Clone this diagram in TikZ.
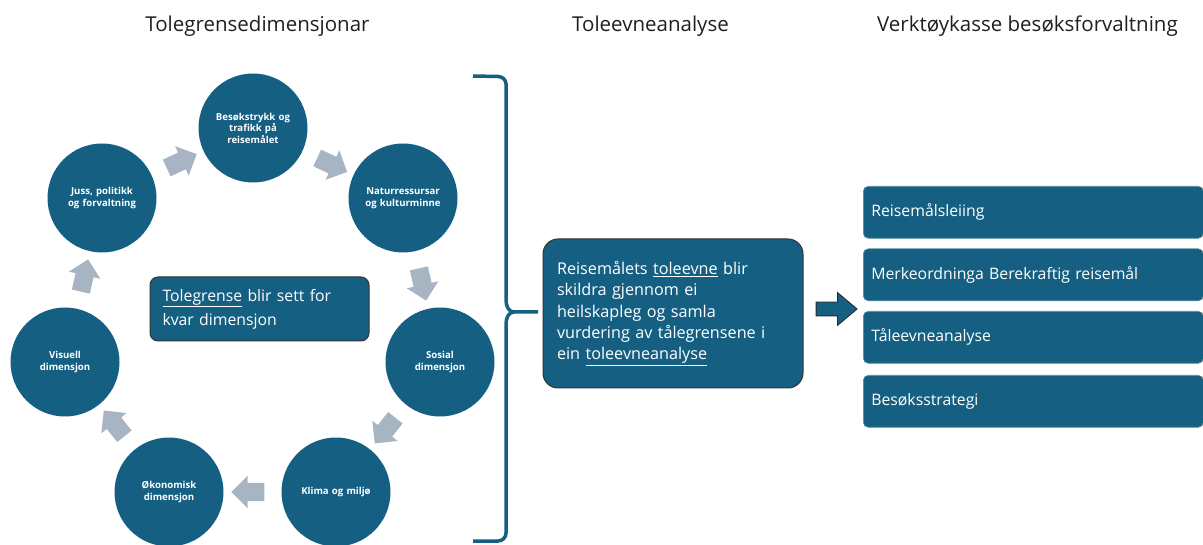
\documentclass[tikz,border=0pt]{standalone}
\usepackage{fontspec}
\setmainfont{Open Sans}
\usetikzlibrary{shapes.arrows}
\definecolor{tblue}{HTML}{156082}
\definecolor{tgray}{HTML}{A7B4C2}
\definecolor{ttitle}{HTML}{1F1F1F}
\tikzset{
  dim/.style={circle, fill=tblue, minimum size=109pt, inner sep=0pt, text=white,
    font=\fontsize{9.6}{11.5}\selectfont\bfseries, align=center, text width=86pt},
  garrow/.style={single arrow, fill=tgray, draw=none, inner sep=9pt, minimum height=33pt,
    single arrow head extend=7pt, single arrow tip angle=90, sloped, allow upside down},
  title/.style={text=ttitle, font=\fontsize{20.5}{24}\selectfont, anchor=base},
  tool/.style={rectangle, rounded corners=5pt, fill=tblue, draw=tblue!70!white, line width=0.6pt,
    text=white, font=\fontsize{15.8}{18}\selectfont, anchor=north west, minimum width=340pt,
    minimum height=52pt, text width=324pt, align=left, inner sep=8pt},
}
\begin{document}
\begin{tikzpicture}[x=1pt,y=-1pt]
\useasboundingbox (0,0) rectangle (1203,545);
% titles
\node[title] (t1) at (257.5,32) {Tolegrensedimensjonar};
\node[title] (t2) at (650.5,32) {Toleevneanalyse};
\node[title] (t3) at (1027.5,32) {Verktøykasse besøksforvaltning};
% circles
\node[dim] (c1) at (253,128) {Besøkstrykk og\\trafikk på\\reisemålet};
\node[dim] (c2) at (403,198) {Naturressursar\\og kulturminne};
\node[dim] (c3) at (440,362) {Sosial\\dimensjon};
\node[dim] (c4) at (336,492) {Klima og miljø};
\node[dim] (c5) at (169,492) {Økonomisk\\dimensjon};
\node[dim] (c6) at (65,362) {Visuell\\dimensjon};
\node[dim] (c7) at (102,198) {Juss, politikk\\og forvaltning};
% gray arrows
\path (c7.center) -- node[garrow] (a7) {} (c1.center);
\path (c1.center) -- node[garrow] (a1) {} (c2.center);
\path (c2.center) -- node[garrow] (a2) {} (c3.center);
\path (c3.center) -- node[garrow] (a3) {} (c4.center);
\path (c4.center) -- node[garrow] (a4) {} (c5.center);
\path (c5.center) -- node[garrow] (a5) {} (c6.center);
\path (c6.center) -- node[garrow] (a6) {} (c7.center);
% central box
\node[rectangle, rounded corners=8pt, fill=tblue, draw=black!80, line width=1pt, text=white,
  font=\fontsize{15.8}{24}\selectfont, align=left, minimum width=219pt, minimum height=64pt,
  text width=194pt, inner sep=0pt] (tg) at (259.5,309) {\underline{Tolegrense} blir sett for\\kvar dimensjon};
% brace
\draw[tblue, line width=3.5pt, line cap=butt]
  (473,76) -- (498,76.5) to[out=0,in=90] (506,84) -- (506,300)
  to[out=-90,in=180] (514,312) -- (538,312);
\draw[tblue, line width=3.5pt]
  (514,312) to[out=180,in=90] (506,324) -- (506,533) to[out=-90,in=0] (498,541) -- (473,541);
% analysis box
\node[rectangle, rounded corners=15pt, fill=tblue, draw=black!80, line width=1pt, text=white,
  font=\fontsize{16.2}{21.2}\selectfont, align=left, minimum width=260pt, minimum height=149pt,
  text width=232pt, inner sep=0pt] (ta) at (673,313.5)
  {Reisemålets \underline{toleevne} blir\\skildra gjennom ei\\heilskapleg og samla\\vurdering av tålegrensene i\\ein \underline{toleevneanalyse}};
% block arrow
\node[single arrow, fill=tblue, draw=black!85, line width=0.8pt, inner sep=6.5pt, minimum height=41pt,
  single arrow head extend=9.5pt, single arrow tip angle=80] (ba) at (832.5,309) {};
% tools
\node[tool] (r1) at (863,186) {Reisemålsleiing};
\node[tool] (r2) at (863,248.5) {Merkeordninga Berekraftig reisemål};
\node[tool] (r3) at (863,311) {Tåleevneanalyse};
\node[tool] (r4) at (863,375) {Besøksstrategi};
\end{tikzpicture}
\end{document}
